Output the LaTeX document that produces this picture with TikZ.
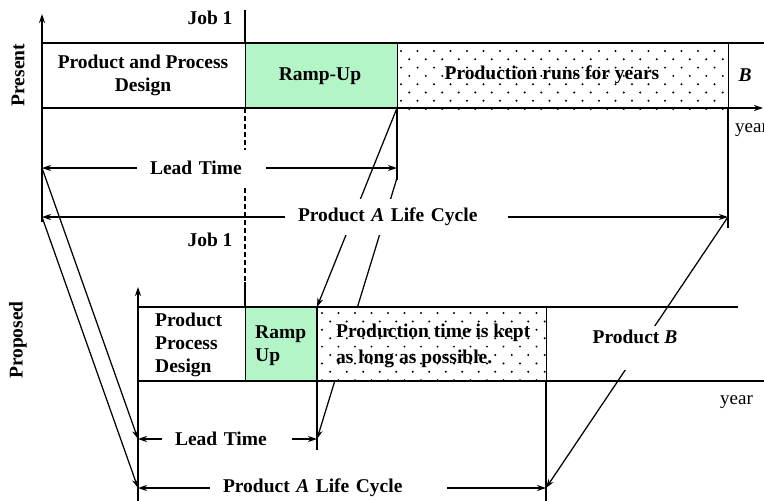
\documentclass[tikz,border=0pt]{standalone}
\usepackage{fontspec}
\setmainfont{Liberation Serif}
\usetikzlibrary{arrows.meta}
\definecolor{rampgreen}{RGB}{180,245,200}
\begin{document}
\begin{tikzpicture}[x=1pt,y=-1pt,
  ln/.style={line width=1.25pt},
  tip/.style={-{Stealth[length=9pt,width=6pt]}},
  both/.style={{Stealth[length=9pt,width=6pt]}-{Stealth[length=9pt,width=6pt]}},
  txt/.style={font=\bfseries\fontsize{19.5}{23}\selectfont, inner sep=0pt},
  plaintxt/.style={font=\fontsize{19}{22}\selectfont, inner sep=0pt},
  gaplabel/.style={txt, fill=white, align=left, minimum height=36pt},
  box/.style={draw, line width=1.25pt, anchor=north west, inner sep=0pt},
  dot/.style={fill=black}
]
\useasboundingbox (0,0) rectangle (764,501);

% ---------- coordinates ----------
\coordinate (pAxTop) at (42,14);   \coordinate (pAxBot) at (42,222);
\coordinate (pTopL) at (42,43);    \coordinate (pTopR) at (764,43);
\coordinate (pBotL) at (42,108);   \coordinate (pBotR) at (763,108);
\coordinate (pJobTop) at (245,10); \coordinate (pJobA) at (245,43);
\coordinate (pJobB) at (245,108);  \coordinate (pJobC) at (245,282);
\coordinate (pJobD) at (245,307);
\coordinate (pLeadL) at (42,168);  \coordinate (pLeadR) at (397,168);
\coordinate (pRampBot) at (397,108); \coordinate (pRampLow) at (397,180);
\coordinate (pSlant) at (397,178);
\coordinate (pLifeL) at (42,217);  \coordinate (pLifeR) at (728,217);
\coordinate (pProdBot) at (728,108); \coordinate (pProdLow) at (728,228);

\coordinate (qAxTop) at (138,287); \coordinate (qAxBot) at (138,501);
\coordinate (qTopL) at (138,307);  \coordinate (qTopR) at (738,307);
\coordinate (qBotL) at (138,381);  \coordinate (qBotR) at (764,381);
\coordinate (qLeadL) at (138,439); \coordinate (qLeadR) at (317,439);
\coordinate (qRampTop) at (317,307); \coordinate (qRampLow) at (317,450);
\coordinate (qLifeL) at (138,488); \coordinate (qLifeR) at (546,488);
\coordinate (qProdBot) at (546,381); \coordinate (qProdLow) at (546,501);

% ---------- diagonal connectors (behind) ----------
\draw[ln,tip] (pLeadL) -- (qLeadL);
\draw[ln,tip] (pLifeL) -- (qLifeL);
\draw[ln,tip] (pRampBot) -- (qRampTop);
\draw[ln,tip] (pSlant) -- (qLeadR);
\draw[ln,tip] (pLifeR) -- (qLifeR);

% ---------- present boxes ----------
\node[box, fill=white, minimum width=203pt, minimum height=65pt] (p1) at (42,43) {};
\node[box, fill=rampgreen, minimum width=152pt, minimum height=65pt] (p2) at (245,43) {};
\node[box, fill=white, minimum width=331pt, minimum height=65pt] (p3) at (397,43) {};
\begin{scope}
\clip (p3.south west) rectangle (p3.north east);
\foreach \i in {0,...,7}{\foreach \j in {0,...,21}{
  \fill[dot] ({401+16.5*\j+8.25*mod(\i,2)},{51+8.3*\i}) circle (1.1pt);}}
\end{scope}

% ---------- proposed boxes ----------
\node[box, fill=white, minimum width=107pt, minimum height=74pt] (q1) at (138,307) {};
\node[box, fill=rampgreen, minimum width=72pt, minimum height=74pt] (q2) at (245,307) {};
\node[box, fill=white, minimum width=229pt, minimum height=74pt] (q3) at (317,307) {};
\begin{scope}
\clip (q3.south west) rectangle (q3.north east);
\foreach \i in {0,...,8}{\foreach \j in {0,...,15}{
  \fill[dot] ({322+16.5*\j+8.25*mod(\i,2)},{313+8.4*\i}) circle (1.1pt);}}
\end{scope}

% ---------- present axes and lines ----------
\draw[ln,tip] (pAxBot) -- (pAxTop);
\draw[ln] (pTopL) -- (pTopR);
\draw[ln,tip] (pBotL) -- (pBotR);
\draw[ln] (pJobTop) -- (pJobA);
\draw[ln,dash pattern=on 5pt off 3pt] (pJobB) -- (pJobC);
\draw[ln] (pJobC) -- (pJobD);
\draw[ln] (pRampBot) -- (pRampLow);
\draw[ln] (pProdBot) -- (pProdLow);
\draw[ln,both] (pLeadL) -- (pLeadR);
\draw[ln,both] (pLifeL) -- (pLifeR);

% ---------- proposed axes and lines ----------
\draw[ln,tip] (qAxBot) -- (qAxTop);
\draw[ln] (qTopL) -- (qTopR);
\draw[ln] (qBotL) -- (qBotR);
\draw[ln] (qRampTop) -- (qRampLow);
\draw[ln] (qProdBot) -- (qProdLow);
\draw[ln,both] (qLeadL) -- (qLeadR);
\draw[ln,both] (qLifeL) -- (qLifeR);

% ---------- labels on arrows ----------
\node[gaplabel, text width=129pt] (ltP) at (201.5,168) {\hspace*{13pt}Lead Time};
\node[gaplabel, text width=223pt] (lcP) at (396.5,217) {\hspace*{13pt}Product \textit{A} Life Cycle};
\node[gaplabel, text width=130pt] (ltQ) at (227,439) {\hspace*{13pt}Lead Time};
\node[gaplabel, text width=237pt] (lcQ) at (328.5,488) {\hspace*{13pt}Product \textit{A} Life Cycle};
\node[txt, fill=white, inner xsep=4pt, inner ysep=3pt, text height=14pt, text depth=24pt, anchor=base] (pB) at (635,343) {Product \textit{B}};

% ---------- other texts ----------
\node[txt] (job1) at (210,18) {Job 1};
\node[txt] (job2) at (210,240) {Job 1};
\node[txt, rotate=90] (present) at (18,75) {Present};
\node[txt, rotate=90] (proposed) at (18,340) {Proposed};
\node[txt, align=center] (pDesign) at (143,75) {Product and Process\\Design};
\node[txt] (pRamp) at (320,76) {Ramp-Up};
\node[txt] (pProd) at (552,75) {Production runs for years};
\node[txt] (pBB) at (745,75) {\textit{B}};
\node[plaintxt, anchor=west] (yearP) at (735,130) {year};
\node[txt, align=left, anchor=west] (qDesign) at (155,345) {Product\\Process\\Design};
\node[txt, align=left, anchor=west] (qRamp) at (255,346) {Ramp\\Up};
\node[txt, align=left, anchor=west, font=\bfseries\fontsize{19.5}{26}\selectfont] (qProd) at (336,346) {Production time is kept\\as long as possible.};
\node[plaintxt, anchor=west] (yearQ) at (720,402) {year};
\end{tikzpicture}
\end{document}
